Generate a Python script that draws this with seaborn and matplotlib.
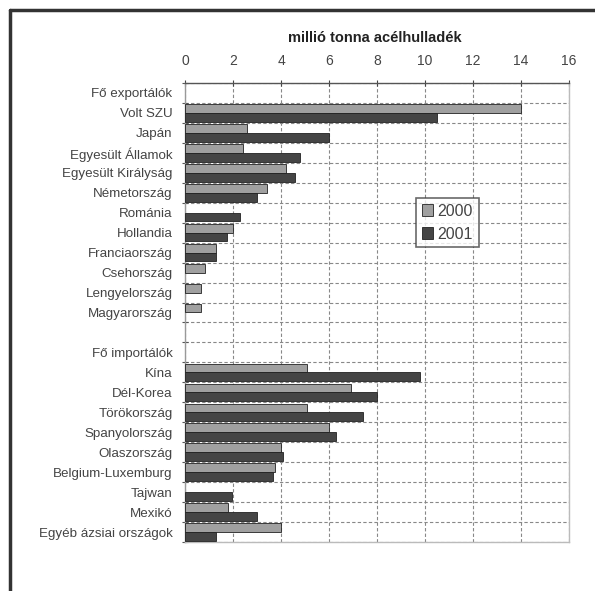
import matplotlib
matplotlib.use("Agg")
import matplotlib.pyplot as plt
import seaborn as sns
import numpy as np
import pandas as pd
from matplotlib.ticker import FixedLocator

categories = ["Fő exportálók", "Volt SZU", "Japán", "Egyesült Államok", "Egyesült Királyság",
              "Németország", "Románia", "Hollandia", "Franciaország", "Csehország",
              "Lengyelország", "Magyarország", "", "Fő importálók", "Kína", "Dél-Korea",
              "Törökország", "Spanyolország", "Olaszország", "Belgium-Luxemburg", "Tajwan",
              "Mexikó", "Egyéb ázsiai országok"]
v2000 = [np.nan, 14.0, 2.6, 2.4, 4.2, 3.4, np.nan, 2.0, 1.3, 0.85, 0.65, 0.65, np.nan,
         np.nan, 5.1, 6.9, 5.1, 6.0, 4.0, 3.75, np.nan, 1.8, 4.0]
v2001 = [np.nan, 10.5, 6.0, 4.8, 4.6, 3.0, 2.3, 1.75, 1.3, np.nan, np.nan, np.nan, np.nan,
         np.nan, 9.8, 8.0, 7.4, 6.3, 4.1, 3.65, 1.95, 3.0, 1.3]
years = ["2000", "2001"]
x_ticks = [0, 2, 4, 6, 8, 10, 12, 14, 16]
title = "millió tonna acélhulladék"

df = pd.DataFrame({
    "cat": categories * 2,
    "year": [years[0]] * len(categories) + [years[1]] * len(categories),
    "val": v2000 + v2001,
})

sns.set_style("white")
plt.rcParams["font.family"] = ["Liberation Sans", "DejaVu Sans"]

W, H = 595, 591
fig = plt.figure(figsize=(W / 100, H / 100), dpi=100)
fig.patch.set_facecolor("white")
ax = fig.add_axes([185 / W, 1 - 542 / H, 384 / W, 459 / H])

sns.barplot(data=df, y="cat", x="val", hue="year", order=categories, hue_order=years,
            palette=["#a0a0a0", "#454545"], orient="h", width=0.88, errorbar=None,
            edgecolor="#222222", linewidth=0.6, ax=ax, zorder=3)

n = len(categories)
ax.set_ylim(n - 0.5, -0.5)
ax.set_xlim(0, 16)
ax.set_xlabel("")
ax.set_ylabel("")

# x axis on top
ax.xaxis.set_ticks_position("top")
ax.xaxis.set_label_position("top")
ax.set_xticks(x_ticks)
ax.set_xticklabels([str(t) for t in x_ticks])
ax.tick_params(axis="x", which="major", top=True, bottom=False, length=4, direction="inout",
               width=0.8, color="#444444", labelsize=10, labelcolor="#444444", pad=9)

# y axis: labels at centers, tick marks at boundaries
ax.set_yticks(range(n))
ax.set_yticklabels(categories)
ax.yaxis.set_minor_locator(FixedLocator(np.arange(-0.5, n, 1.0)))
ax.tick_params(axis="y", which="major", length=0, labelsize=9.6, labelcolor="#444444", pad=9)
ax.tick_params(axis="y", which="minor", left=True, length=4, width=0.8, color="#555555",
               direction="inout")

ax.grid(False)
ax.grid(axis="x", which="major", linestyle=(0, (3, 2)), color="#888888", linewidth=0.8, zorder=0)
ax.grid(axis="y", which="minor", linestyle=(0, (3, 2)), color="#888888", linewidth=0.8, zorder=0)
ax.set_axisbelow(True)

for side in ["bottom", "right"]:
    ax.spines[side].set_color("#bbbbbb")
    ax.spines[side].set_linewidth(1.0)
ax.spines["top"].set_color("#555555")
ax.spines["top"].set_linewidth(1.0)
ax.spines["left"].set_color("#999999")
ax.spines["left"].set_linewidth(1.0)

leg = ax.legend(loc="upper left", bbox_to_anchor=((416 - 185) / 384, (542 - 198) / 459),
                frameon=True, fancybox=False, fontsize=11.5, handlelength=0.7, handleheight=0.7,
                handletextpad=0.3, borderpad=0.35, labelspacing=0.5, borderaxespad=0)
leg.get_frame().set_edgecolor("#444444")
leg.get_frame().set_linewidth(1.2)
for t in leg.get_texts():
    t.set_color("#444444")

fig.text(375 / W, 1 - 38 / H, title, ha="center", va="center", fontsize=10.5,
         fontweight="bold", color="#222222")

# outer frame (top and left)
fig.add_artist(plt.Line2D([10 / W, 1], [1 - 10 / H, 1 - 10 / H], color="#333333", lw=2.5,
                          transform=fig.transFigure))
fig.add_artist(plt.Line2D([10 / W, 10 / W], [0, 1 - 10 / H], color="#333333", lw=2.5,
                          transform=fig.transFigure))

fig.savefig("out.png", dpi=100, facecolor="white")
